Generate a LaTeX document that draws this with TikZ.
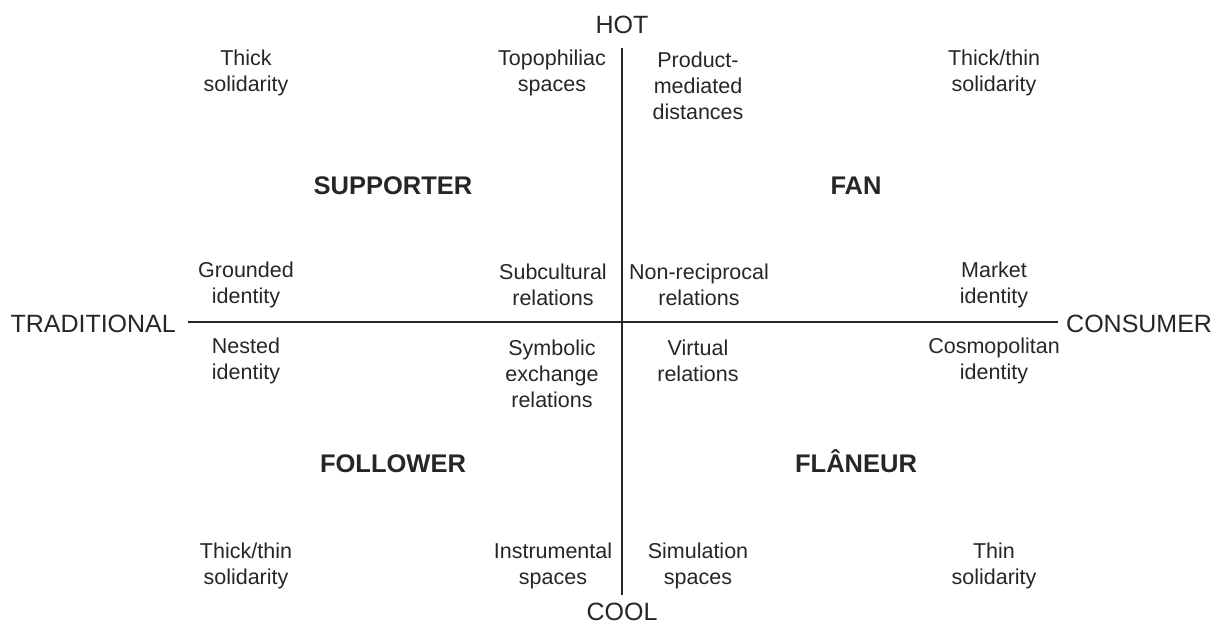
\documentclass[tikz,border=0pt]{standalone}
\usepackage{fontspec}
\setmainfont{Liberation Sans}
\usetikzlibrary{positioning}
\definecolor{ink}{HTML}{262626}

\begin{document}
\begin{tikzpicture}[x=1pt,y=-1pt,
  every node/.style={text=ink,inner sep=0pt},
  axislabel/.style={font=\fontsize{25}{30}\selectfont},
  trait/.style={align=center,font=\fontsize{21.5}{26}\selectfont},
  type/.style={anchor=base,font=\bfseries\fontsize{25.5}{30}\selectfont},
  axis/.style={draw=ink,line width=2pt}]

\useasboundingbox (0,0) rectangle (1221,625);

% axes
\node[axislabel] (hot) at (622,25) {HOT};
\node[axislabel] (cool) at (622,612) {COOL};
\node[axislabel,anchor=east] (trad) at (176,324) {TRADITIONAL};
\node[axislabel,anchor=west] (cons) at (1066,324) {CONSUMER};

\coordinate (n) at (622,48);
\coordinate (s) at (622,595);
\coordinate (w) at (188,322);
\coordinate (e) at (1058,322);

\path[axis] (w) edge (e) (n) edge (s);

% types
\node[type] (supporter) at (393,194) {SUPPORTER};
\node[type] (fan) at (856,194) {FAN};
\node[type] (follower) at (393,472) {FOLLOWER};
\node[type] (flaneur) at (856,472) {FLÂNEUR};

% hot side
\node[trait] (thick) at (246,73) {Thick\\solidarity};
\node[trait] (topo) at (552,73) {Topophiliac\\spaces};
\node[trait] (product) at (698,86) {Product-\\mediated\\distances};
\node[trait] (thickthin) at (994,73) {Thick/thin\\solidarity};

% middle, above
\node[trait] (grounded) at (246,285) {Grounded\\identity};
\node[trait] (subcult) at (553,285) {Subcultural\\relations};
\node[trait] (nonrecip) at (699,285) {Non-reciprocal\\relations};
\node[trait] (market) at (994,285) {Market\\identity};

% middle, below
\node[trait] (nested) at (246,361) {Nested\\identity};
\node[trait] (symbolic) at (552,374) {Symbolic\\exchange\\relations};
\node[trait] (virtual) at (698,361) {Virtual\\relations};
\node[trait] (cosmo) at (994,361) {Cosmopolitan\\identity};

% cool side
\node[trait] (thickthin2) at (246,566) {Thick/thin\\solidarity};
\node[trait] (instr) at (553,566) {Instrumental\\spaces};
\node[trait] (simul) at (698,566) {Simulation\\spaces};
\node[trait] (thin) at (994,566) {Thin\\solidarity};

\end{tikzpicture}
\end{document}
